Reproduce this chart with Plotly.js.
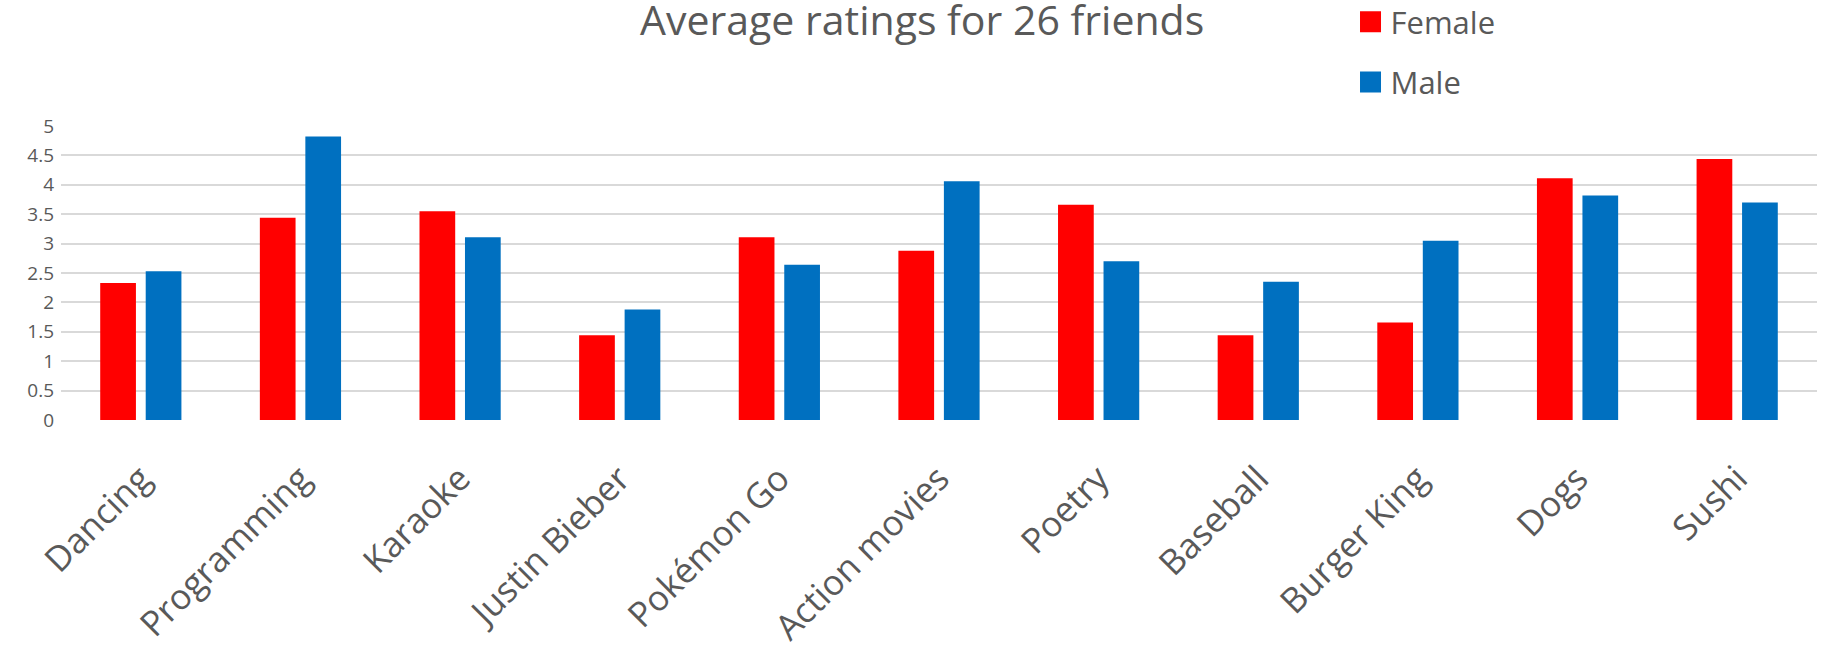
<!DOCTYPE html>
<html>
<head>
<meta charset="utf-8">
<script src="https://cdn.plot.ly/plotly-3.0.1.min.js"></script>
<style>
  html, body { margin: 0; padding: 0; background: #ffffff; }
  #chart { width: 1826px; height: 650px; }
</style>
</head>
<body>
<div id="chart"></div>
<script>
// Average ratings (scale 0-5) given by 26 friends, split by gender
const categories = ['Dancing', 'Programming', 'Karaoke', 'Justin Bieber', 'Pokémon Go',
  'Action movies', 'Poetry', 'Baseball', 'Burger King', 'Dogs', 'Sushi'];
const femaleRatings = [2.33, 3.44, 3.55, 1.44, 3.11, 2.88, 3.66, 1.44, 1.66, 4.11, 4.44];
const maleRatings   = [2.53, 4.82, 3.11, 1.88, 2.64, 4.06, 2.70, 2.35, 3.05, 3.82, 3.70];
const yTickValues = [0, 0.5, 1, 1.5, 2, 2.5, 3, 3.5, 4, 4.5, 5];
const yTickLabels = ['0', '0.5', '1', '1.5', '2', '2.5', '3', '3.5', '4', '4.5', '5'];

const FONT = 'Open Sans, Noto Sans, sans-serif';
const TEXT_GREY = '#595959';

const traces = [
  {
    type: 'bar', name: 'Female', x: categories, y: femaleRatings,
    legendgroup: 'female',
    marker: { color: '#FF0000', line: { width: 0 } },
    hoverinfo: 'x+y+name'
  },
  {
    type: 'bar', name: 'Male', x: categories, y: maleRatings,
    legendgroup: 'male',
    marker: { color: '#0070C0', line: { width: 0 } },
    hoverinfo: 'x+y+name'
  }
];

const layout = {
  width: 1826, height: 650,
  paper_bgcolor: '#ffffff', plot_bgcolor: '#ffffff',
  margin: { l: 61, r: 9, t: 126, b: 230, pad: 0, autoexpand: false },
  font: { family: FONT, color: TEXT_GREY },
  title: {
    text: 'Average ratings for 26 friends',
    font: { family: FONT, size: 41, color: TEXT_GREY },
    xref: 'container', x: 0.505, xanchor: 'center',
    yref: 'container', y: 0.968, yanchor: 'middle'
  },
  barmode: 'group',
  bargap: 0.43,
  bargroupgap: 0.215,
  showlegend: true,
  legend: {
    xref: 'container', yref: 'paper',
    x: 0.7396, xanchor: 'left', y: 1.4456, yanchor: 'top',
    orientation: 'v', traceorder: 'grouped', tracegroupgap: 17,
    font: { family: FONT, size: 31, color: TEXT_GREY },
    bgcolor: 'rgba(0,0,0,0)', borderwidth: 0
  },
  xaxis: {
    type: 'category',
    tickangle: -45,
    tickfont: { family: FONT, size: 35, color: TEXT_GREY },
    ticks: '', showgrid: false, zeroline: false, showline: false,
    ticklabelstandoff: 30
  },
  yaxis: {
    range: [0, 5],
    tickmode: 'array', tickvals: yTickValues, ticktext: yTickLabels,
    tickfont: { family: FONT, size: 19, color: TEXT_GREY },
    showgrid: true, gridcolor: '#d9d9d9', gridwidth: 1.6,
    zeroline: false, showline: false, ticks: '',
    ticklabelstandoff: 6
  }
};

// Enlarge the legend swatches to match the label size
function enlargeSwatches(gd) {
  gd.querySelectorAll('.legend .legendpoints path').forEach(p => {
    p.setAttribute('d', 'M10.5,10.5H-10.5V-10.5H10.5Z');
  });
}

const gd = document.getElementById('chart');
Plotly.newPlot(gd, traces, layout, { displayModeBar: false, responsive: false }).then(() => {
  enlargeSwatches(gd);
  gd.on('plotly_afterplot', () => enlargeSwatches(gd));
});
</script>
</body>
</html>
